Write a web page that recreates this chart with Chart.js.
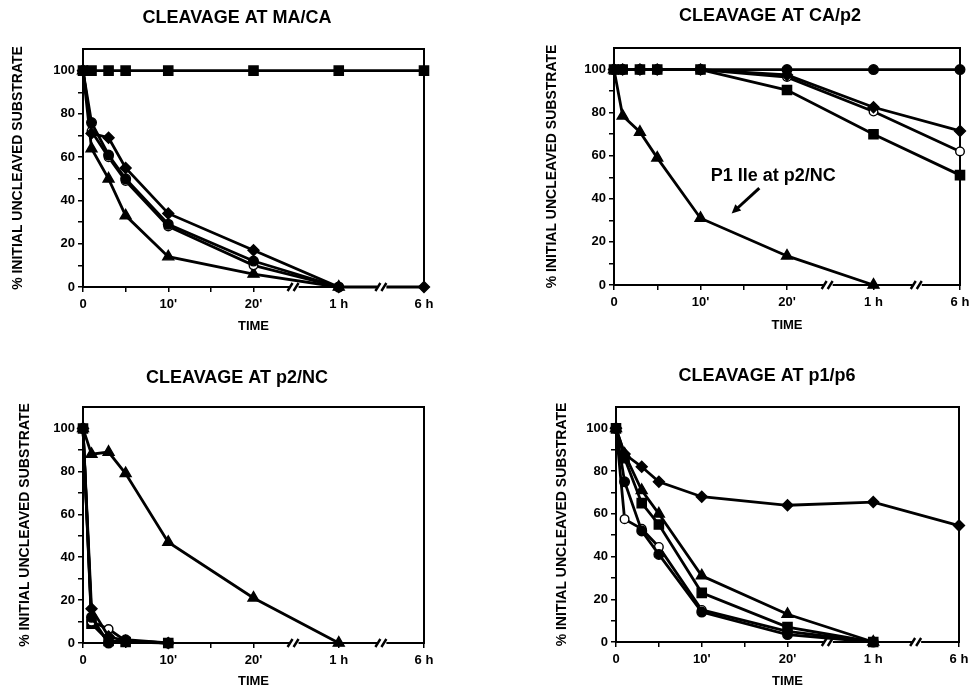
<!DOCTYPE html>
<html>
<head>
<meta charset="utf-8">
<script src="https://cdn.jsdelivr.net/npm/chart.js@4.4.1/dist/chart.umd.min.js"></script>
<style>
  html, body { margin: 0; padding: 0; background: #fff; width: 969px; height: 689px; overflow: hidden; position: relative; }
  canvas { position: absolute; }
</style>
</head>
<body>
<canvas id="maca" width="474" height="345" style="left:0px;top:0px"></canvas>
<canvas id="cap2" width="480" height="345" style="left:530px;top:0px"></canvas>
<canvas id="p2nc" width="474" height="344" style="left:0px;top:345px"></canvas>
<canvas id="p1p6" width="474" height="344" style="left:530px;top:345px"></canvas>
<script>

// time points (minutes); the axis is broken, so 1 h sits at 30 and 6 h at 40
var timePoints = [0, 1, 3, 5, 10, 20, 30, 40];

var xTickValues = [0, 5, 10, 15, 20, 30, 40];
var xTickLabels = ["0", "", "10'", "", "20'", "1 h", "6 h"];
var yTickValues = [0, 10, 20, 30, 40, 50, 60, 70, 80, 90, 100];
var yTickLabels = ["0", "", "20", "", "40", "", "60", "", "80", "", "100"];
var xBreaks = [24.7, 35];

// CLEAVAGE AT MA/CA
var macaSquare = [100, 100, 100, 100, 100, 100, 100, 100];
var macaDiamond = [100, 71, 69, 55, 34, 17, 0, 0];
var macaCircle = [100, 76, 61, 50, 29, 12, 0];
var macaOpen = [100, 72, 60, 49, 28, 10, 0];
var macaTriangle = [100, 64, 50, 33, 14, 6, 0];

// CLEAVAGE AT CA/p2
var cap2Circle = [100, 100, 100, 100, 100, 100, 100, 100];
var cap2Diamond = [100, 100, 100, 100, 100, 97.5, 82.5, 71.5];
var cap2Open = [100, 100, 100, 100, 100, 96.5, 80.5, 62];
var cap2Square = [100, 100, 100, 100, 100, 90.5, 70, 51];
var cap2Triangle = [100, 78.5, 71, 59, 31, 13.5, 0];

// CLEAVAGE AT p2/NC
var p2ncTriangle = [100, 88, 89, 79, 47, 21, 0];
var p2ncDiamond = [100, 16, 3, 1, 0];
var p2ncCircle = [100, 12, 0, 1.5, 0];
var p2ncOpen = [100, 10, 6.5, 1, 0];
var p2ncSquare = [100, 9, 1, 0.5, 0];

// CLEAVAGE AT p1/p6
var p1p6Diamond = [100, 88, 82, 75, 68, 64, 65.5, 54.5];
var p1p6Triangle = [100, 88, 71, 60, 31, 13, 0];
var p1p6Square = [100, 86, 65, 55, 23, 7, 0];
var p1p6Circle = [100, 75, 52, 41, 14, 3.5, 0];
var p1p6Open = [100, 57.5, 53, 44.5, 15, 5, 0];

var noteText = "P1 Ile at p2/NC";
var notePos = [18.4, 50.7];
var arrowFrom = [16.8, 45];
var arrowTo = [13.6, 33.2];

Chart.defaults.font.family = "'Liberation Sans', Arial, Helvetica, sans-serif";
Chart.defaults.font.weight = "bold";
Chart.defaults.color = "#000";

var markers = {
  square: { pointStyle: "rect", radius: 6.5, fill: "#000" },
  circle: { pointStyle: "circle", radius: 4.8, fill: "#000" },
  open: { pointStyle: "circle", radius: 4.3, fill: "#fff" },
  diamond: { pointStyle: "rectRot", radius: 5.5, fill: "#000" },
  triangle: { pointStyle: "triangle", radius: 6.3, fill: "#000" }
};

function makeSeries(values, kind) {

  var pts = [];
  for (var i = 0; i < values.length; i++) {
    pts.push({ x: timePoints[i], y: values[i] });
  }
  var m = markers[kind];

  return {
    data: pts,
    borderColor: "#000",
    borderWidth: 2.8,
    pointStyle: m.pointStyle,
    pointRadius: m.radius,
    pointBackgroundColor: m.fill,
    pointBorderColor: "#000",
    pointBorderWidth: 1.4,
    tension: 0,
    clip: false
  };
}

var framePlugin = {
  id: "frame",
  afterDraw: function(chart) {
    var ctx = chart.ctx;
    var a = chart.chartArea;
    var y = a.bottom;
    ctx.save();
    for (var i = 0; i < xBreaks.length; i++) {
      var px = chart.scales.x.getPixelForValue(xBreaks[i]);
      ctx.fillStyle = "#fff";
      ctx.fillRect(px - 4, y - 2, 9, 4);
      ctx.strokeStyle = "#000";
      ctx.lineWidth = 2.4;
      ctx.beginPath();
      ctx.moveTo(px - 6, y + 4);
      ctx.lineTo(px - 1, y - 4);
      ctx.moveTo(px, y + 4);
      ctx.lineTo(px + 5, y - 4);
      ctx.stroke();
    }
    ctx.restore();
  }
};

var notePlugin = {
  id: "note",
  afterDraw: function(chart) {
    var ctx = chart.ctx;
    var xs = chart.scales.x;
    var ys = chart.scales.y;
    ctx.save();
    ctx.font = "bold 18px 'Liberation Sans', Arial, sans-serif";
    ctx.fillStyle = "#000";
    ctx.textAlign = "center";
    ctx.textBaseline = "middle";
    ctx.fillText(noteText, xs.getPixelForValue(notePos[0]), ys.getPixelForValue(notePos[1]));

    var x1 = xs.getPixelForValue(arrowFrom[0]), y1 = ys.getPixelForValue(arrowFrom[1]);
    var x2 = xs.getPixelForValue(arrowTo[0]), y2 = ys.getPixelForValue(arrowTo[1]);
    var ang = Math.atan2(y2 - y1, x2 - x1);
    var head = 10;
    ctx.strokeStyle = "#000";
    ctx.lineWidth = 3;
    ctx.beginPath();
    ctx.moveTo(x1, y1);
    ctx.lineTo(x2 - Math.cos(ang) * head * 0.7, y2 - Math.sin(ang) * head * 0.7);
    ctx.stroke();
    ctx.beginPath();
    ctx.moveTo(x2, y2);
    ctx.lineTo(x2 - head * Math.cos(ang - 0.45), y2 - head * Math.sin(ang - 0.45));
    ctx.lineTo(x2 - head * Math.cos(ang + 0.45), y2 - head * Math.sin(ang + 0.45));
    ctx.closePath();
    ctx.fill();
    ctx.restore();
  }
};

function printPanel(id, title, datasets, box, extra) {

  var plugins = [framePlugin];
  if (extra) plugins.push(extra);

  var ctx = document.getElementById(id).getContext("2d");
  var chart = new Chart(ctx, {

    type: "line",

    data: { datasets: datasets },

    options: {
      responsive: false,
      animation: false,
      events: [],
      layout: { padding: 0, autoPadding: false },
      plugins: {
        legend: { display: false },
        tooltip: { enabled: false },
        title: {
          display: true,
          text: title,
          font: { size: 18, weight: "bold" },
          padding: { top: box.titleTop, bottom: box.titleBottom }
        }
      },
      scales: {
        x: {
          type: "linear",
          min: 0,
          max: 40,
          afterBuildTicks: function(axis) {
            axis.ticks = xTickValues.map(function(v) { return { value: v }; });
          },
          afterFit: function(scale) { scale.height = box.xH; },
          ticks: {
            autoSkip: false,
            maxRotation: 0,
            padding: 5,
            font: { size: 13, weight: "bold" },
            callback: function(value, index) { return xTickLabels[index]; }
          },
          grid: { drawOnChartArea: false, tickLength: 5, color: "#000", lineWidth: 1.5 },
          border: { display: true, color: "#000", width: 2 },
          title: {
            display: true,
            text: "TIME",
            font: { size: 13, weight: "bold" },
            padding: { top: 0, bottom: box.xTitleBottom }
          }
        },
        y: {
          type: "linear",
          min: 0,
          max: 110,
          afterBuildTicks: function(axis) {
            axis.ticks = yTickValues.map(function(v) { return { value: v }; });
          },
          afterFit: function(scale) { scale.width = box.yW; },
          ticks: {
            padding: 3,
            font: { size: 13, weight: "bold" },
            callback: function(value, index) { return yTickLabels[index]; }
          },
          grid: { drawOnChartArea: false, tickLength: 5, color: "#000", lineWidth: 1.5 },
          border: { display: true, color: "#000", width: 2 },
          title: {
            display: true,
            text: "% INITIAL UNCLEAVED SUBSTRATE",
            font: { size: 14, weight: "bold" },
            padding: { top: box.yTitleTop, bottom: 0 }
          }
        },
        x2: {
          type: "linear",
          position: "top",
          afterFit: function(scale) { scale.height = 0; },
          ticks: { display: false },
          grid: { drawOnChartArea: false, drawTicks: false },
          border: { display: true, color: "#000", width: 2 }
        },
        y2: {
          type: "linear",
          position: "right",
          afterFit: function(scale) { scale.width = box.y2W; },
          ticks: { display: false },
          grid: { drawOnChartArea: false, drawTicks: false },
          border: { display: true, color: "#000", width: 2 }
        }
      }
    },

    plugins: plugins
  });

  return chart;
}

function init() {

  printPanel("maca", "CLEAVAGE AT MA/CA", [
    makeSeries(macaSquare, "square"),
    makeSeries(macaDiamond, "diamond"),
    makeSeries(macaCircle, "circle"),
    makeSeries(macaOpen, "open"),
    makeSeries(macaTriangle, "triangle")
  ], { titleTop: 7.5, titleBottom: 19.9, xH: 58, xTitleBottom: 11.2, yW: 83, y2W: 50, yTitleTop: 9.6 });

  printPanel("cap2", "CLEAVAGE AT CA/p2", [
    makeSeries(cap2Circle, "circle"),
    makeSeries(cap2Diamond, "diamond"),
    makeSeries(cap2Open, "open"),
    makeSeries(cap2Square, "square"),
    makeSeries(cap2Triangle, "triangle")
  ], { titleTop: 5.2, titleBottom: 21.2, xH: 60, xTitleBottom: 12.2, yW: 84, y2W: 50, yTitleTop: 13.6 }, notePlugin);

  printPanel("p2nc", "CLEAVAGE AT p2/NC", [
    makeSeries(p2ncTriangle, "triangle"),
    makeSeries(p2ncDiamond, "diamond"),
    makeSeries(p2ncCircle, "circle"),
    makeSeries(p2ncOpen, "open"),
    makeSeries(p2ncSquare, "square")
  ], { titleTop: 22.2, titleBottom: 18.2, xH: 46, xTitleBottom: 0, yW: 83, y2W: 50, yTitleTop: 16.6 });

  printPanel("p1p6", "CLEAVAGE AT p1/p6", [
    makeSeries(p1p6Diamond, "diamond"),
    makeSeries(p1p6Triangle, "triangle"),
    makeSeries(p1p6Square, "square"),
    makeSeries(p1p6Circle, "circle"),
    makeSeries(p1p6Open, "open")
  ], { titleTop: 20.2, titleBottom: 20.2, xH: 47, xTitleBottom: 0, yW: 86, y2W: 45, yTitleTop: 23.6 });
}

init();
</script>
</body>
</html>
